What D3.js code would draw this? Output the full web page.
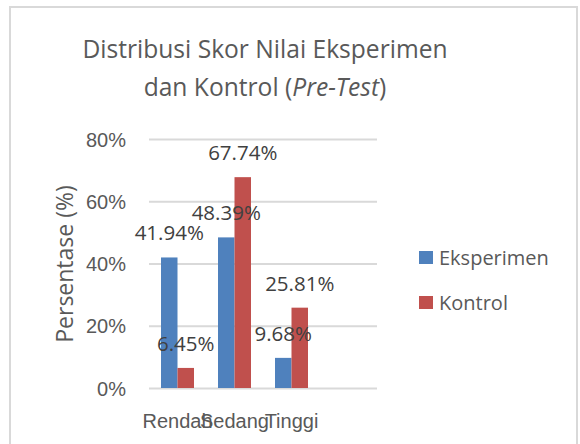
<!DOCTYPE html>
<html>
<head>
<meta charset="utf-8">
<script src="https://cdn.jsdelivr.net/npm/d3@7"></script>
<style>
  body { margin: 0; background: #fff; }
  svg { display: block; font-family: "Open Sans", sans-serif; }
  .tick line { stroke: #d9d9d9; stroke-width: 2; }
  .tick text { fill: #595959; font-size: 20px; }
</style>
</head>
<body>
<svg id="chart" width="580" height="444"></svg>
<script>
const categories = ['Rendah', 'Sedang', 'Tinggi'];
const seriesNames = ['Eksperimen', 'Kontrol'];
const eksperimen = [0.4194, 0.4839, 0.0968];
const kontrol = [0.0645, 0.6774, 0.2581];
const yTicks = [0, 0.2, 0.4, 0.6, 0.8];
const colors = ['#4f81bd', '#c0504d'];

const svg = d3.select('#chart');

// Chart border (bottom edge falls outside the picture)
svg.append('rect')
  .attr('x', 10).attr('y', 7)
  .attr('width', 567).attr('height', 460)
  .attr('fill', 'none')
  .attr('stroke', '#d9d9d9')
  .attr('stroke-width', 2);

// Title
const title = svg.append('text')
  .attr('text-anchor', 'middle')
  .attr('fill', '#595959')
  .style('font-size', '24.6px');
title.append('tspan').attr('x', 265).attr('y', 58).text('Distribusi Skor Nilai Eksperimen');
const line2 = title.append('tspan').attr('x', 265).attr('y', 96);
line2.append('tspan').text('dan Kontrol (');
line2.append('tspan').style('font-style', 'italic').text('Pre-Test');
line2.append('tspan').text(')');

// Scales - an empty 4th slot keeps the bars to the left like the original
const x0 = d3.scaleBand()
  .domain([...categories, ''])
  .range([149, 377]);

const x1 = d3.scaleBand()
  .domain(seriesNames)
  .range([12, x0.bandwidth() - 12]);

const y = d3.scaleLinear()
  .domain([0, 0.8])
  .range([388, 139]);

// Y axis + gridlines
svg.append('g')
  .attr('transform', 'translate(149,0)')
  .call(d3.axisLeft(y)
    .tickValues(yTicks)
    .tickFormat(d3.format('.0%'))
    .tickSize(-228)
    .tickPadding(23))
  .call(g => g.select('.domain').remove())
  .call(g => g.selectAll('.tick text').attr('dy', '0.36em'));

// X axis labels
svg.append('g')
  .attr('transform', 'translate(0,388)')
  .call(d3.axisBottom(x0)
    .tickValues(categories)
    .tickSize(0)
    .tickPadding(26))
  .call(g => g.select('.domain').remove());

// Axis title
svg.append('text')
  .attr('transform', 'translate(73,264) rotate(-90)')
  .attr('text-anchor', 'middle')
  .attr('fill', '#595959')
  .style('font-size', '23px')
  .text('Persentase (%)');

// Bars
const rows = categories.map((c, i) => ({ cat: c, vals: [eksperimen[i], kontrol[i]] }));

const groups = svg.append('g')
  .selectAll('g')
  .data(rows)
  .join('g')
  .attr('transform', d => `translate(${x0(d.cat)},0)`);

groups.selectAll('rect')
  .data(d => d.vals.map((v, j) => ({ name: seriesNames[j], v, j })))
  .join('rect')
  .attr('x', d => x1(d.name))
  .attr('y', d => y(d.v))
  .attr('width', x1.bandwidth())
  .attr('height', d => y(0) - y(d.v))
  .attr('fill', d => colors[d.j]);

// Data labels
groups.selectAll('text.lbl')
  .data(d => d.vals.map((v, j) => ({ name: seriesNames[j], v })))
  .join('text')
  .attr('class', 'lbl')
  .attr('x', d => x1(d.name) + x1.bandwidth() / 2)
  .attr('y', d => y(d.v) - 17)
  .attr('text-anchor', 'middle')
  .attr('fill', '#404040')
  .style('font-size', '20.5px')
  .text(d => d3.format('.2%')(d.v));

// Legend
const legend = svg.append('g')
  .selectAll('g')
  .data(seriesNames)
  .join('g')
  .attr('transform', (d, i) => `translate(419,${251 + i * 45})`);

legend.append('rect')
  .attr('width', 14).attr('height', 13)
  .attr('fill', (d, i) => colors[i]);

legend.append('text')
  .attr('x', 20).attr('y', 6.5)
  .attr('dy', '0.36em')
  .attr('fill', '#595959')
  .style('font-size', '20px')
  .text(d => d);
</script>
</body>
</html>
